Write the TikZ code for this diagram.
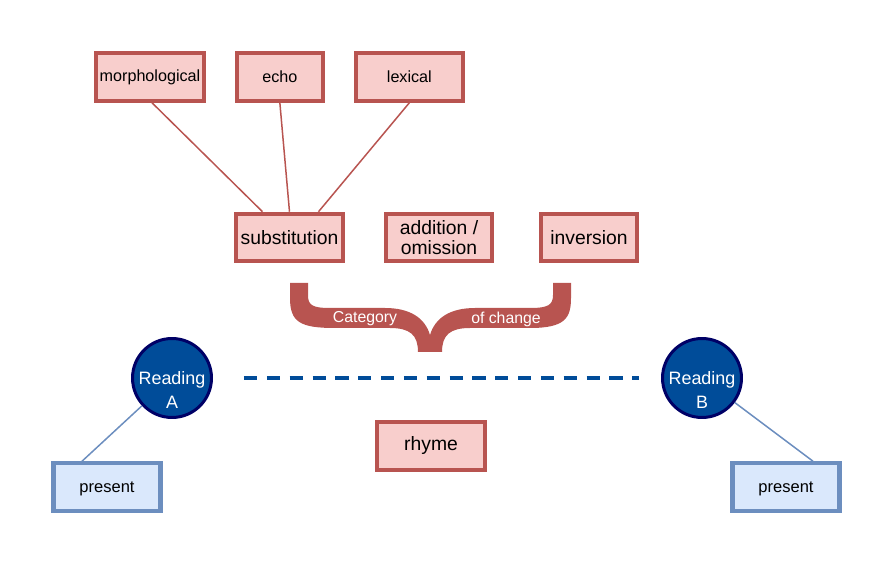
\documentclass[tikz,border=0pt]{standalone}
\usepackage{fontspec}
\setmainfont{Liberation Sans}
\usetikzlibrary{positioning}

\definecolor{redline}{HTML}{B85450}
\definecolor{redfill}{HTML}{F8CECC}
\definecolor{blueline}{HTML}{6C8EBF}
\definecolor{bluefill}{HTML}{DAE8FC}
\definecolor{darkblue}{HTML}{004C99}
\definecolor{navy}{HTML}{000066}

\begin{document}
\begin{tikzpicture}[
  x=0.02cm, y=-0.02cm,
  kind/.style={draw=redline, fill=redfill, line width=2.3pt, align=center, inner sep=2pt,
    minimum width=2.14cm, minimum height=0.95cm},
  subkind/.style={kind, font=\fontsize{9.2}{11}\selectfont},
  maincat/.style={kind, font=\fontsize{11}{11.5}\selectfont},
  reading/.style={circle, draw=navy, fill=darkblue, line width=1.7pt, text=white, align=center,
    minimum size=1.58cm, inner sep=0pt, font=\fontsize{10.2}{13.5}\selectfont},
  tense/.style={draw=blueline, fill=bluefill, line width=2.3pt, minimum width=2.14cm,
    minimum height=0.95cm, text depth=0pt, font=\fontsize{9.4}{11}\selectfont},
  link/.style={draw=redline, line width=0.85pt},
  bluelink/.style={draw=blueline, line width=0.85pt}
]
\useasboundingbox (0,0) rectangle (893,564);

% sub-types of substitution
\node[subkind, minimum width=2.12cm] (morph) at (150,77) {morphological};
\node[subkind, minimum width=1.72cm, right=0.58cm of morph] (echo) {echo};
\node[subkind, right=0.58cm of echo] (lex) {lexical};

% categories of change
\node[maincat] (subst) at (289.5,237.5) {substitution};
\node[maincat, minimum width=2.12cm] (addom) at (439,237.5) {addition /\\omission};
\node[maincat, minimum width=1.92cm] (inv) at (589,237.5) {inversion};

\draw[link] ([xshift=0.04cm]morph.south) -- ([xshift=-0.54cm]subst.north);
\draw[link] (echo.south) -- (subst.north);
\draw[link] (lex.south) -- ([xshift=0.58cm]subst.north);

% brace
\fill[redline] (290,283) -- (290,298) .. controls (290,322) and (300,328) .. (335,328)
  -- (390,328) .. controls (410,328) and (418,335) .. (418,352) -- (442,352)
  .. controls (442,335) and (450,328) .. (470,328) -- (530,328)
  .. controls (565,328) and (571,318) .. (571,298) -- (571,283) -- (553,283) -- (553,295)
  .. controls (553,305) and (548,308) .. (530,308) -- (475,308)
  .. controls (450,308) and (435,318) .. (430,335)
  .. controls (425,318) and (410,308) .. (385,308) -- (330,308)
  .. controls (312,308) and (308,305) .. (308,295) -- (308,283) -- cycle;
\node[text=white, font=\fontsize{9}{10}\selectfont] (cat) at (365,319) {Category};
\node[text=white, font=\fontsize{9}{10}\selectfont] (chg) at (506,319) {of change};

% readings
\node[reading] (ra) at (172,378) {\raisebox{-0.24cm}[\height][\depth]{Reading}\\\raisebox{-0.24cm}[\height][\depth]{A}};
\node[reading] (rb) at (702,378) {\raisebox{-0.24cm}[\height][\depth]{Reading}\\\raisebox{-0.24cm}[\height][\depth]{B}};
\draw[darkblue, line width=2.3pt, dash pattern=on 7.5pt off 5.5pt] ([xshift=0.62cm]ra.east) -- ([xshift=-0.44cm]rb.west);

\node[maincat, minimum width=2.16cm] (rhyme) at (431,446) {rhyme};

\node[tense] (pa) at (107,487) {present};
\node[tense] (pb) at (786,487) {present};
\draw[bluelink] (ra) -- ([xshift=-0.5cm]pa.north);
\draw[bluelink] (rb) -- ([xshift=0.54cm]pb.north);
\end{tikzpicture}
\end{document}
